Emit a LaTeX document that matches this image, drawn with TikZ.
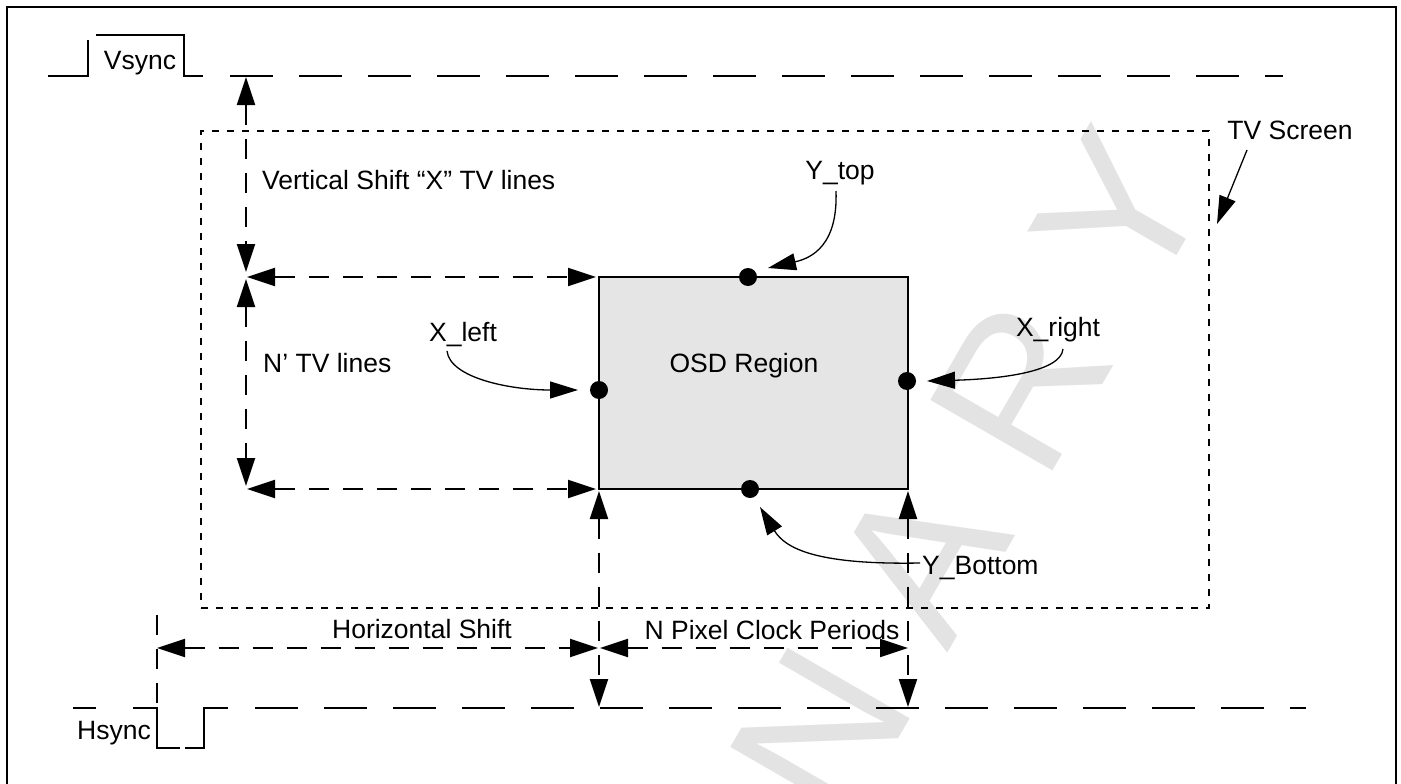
\documentclass[tikz,border=0pt]{standalone}
\usepackage{fontspec}
\setmainfont{Liberation Sans}
\usetikzlibrary{arrows.meta}
\newcommand\wmsp{\kern58pt }
\begin{document}
\begin{tikzpicture}[x=1pt,y=-1pt,
  >={Triangle[length=28pt,width=18pt]},
  lbl/.style={font=\fontsize{26.5}{30}\selectfont, inner sep=0pt, text height=19pt, text depth=0pt},
  sig/.style={line width=2.2pt},
  sigdash/.style={line width=2.2pt, dash pattern=on 43pt off 26pt},
  dim/.style={line width=2pt, dash pattern=on 20pt off 14pt},
  ptr/.style={line width=1.3pt, -{Triangle[length=28pt,width=17pt]}},
  dotmark/.style={circle, fill=black, inner sep=0pt, minimum size=18pt},
  tvbox/.style={draw, line width=2pt, dash pattern=on 7pt off 8pt, inner sep=0pt},
  osdbox/.style={draw, line width=2pt, fill=black!10, inner sep=0pt},
  wm/.style={text=black!11, inner sep=0pt, font=\fontsize{205}{205}\selectfont}
]
\useasboundingbox (0,0) rectangle (1401,784);
\fill[white] (0,0) rectangle (1401,784);

% watermark
\node[wm, rotate=60, anchor=base east] (wmk) at (1216,188)
  {P\wmsp R\wmsp E\wmsp L\wmsp I\wmsp M\wmsp I\wmsp N\wmsp A\wmsp R\wmsp Y};

% frame
\draw[line width=2.5pt] (7,800) -- (7,7) -- (1396,7) -- (1396,800);

% TV screen
\node[tvbox, minimum width=1008pt, minimum height=477pt] (tv) at (705,369.5) {};

% OSD region
\node[osdbox, minimum width=309pt, minimum height=212pt] (osd) at (753.5,383) {};
\node[lbl] (osdt) at (744,363) {OSD Region};

% Vsync waveform
\draw[sig] (48,76) -- (88,76) -- (88,40);
\draw[sig] (96,35) -- (184,35) -- (184,76) -- (203,76);
\draw[sigdash] (230,76) -- (1283,76);
\node[lbl] (vsync) at (140,60) {Vsync};

% Hsync waveform
\draw[sig] (73,708) -- (96,708);
\draw[sig] (133,708) -- (157,708) -- (157,748) -- (180,748);
\draw[sig] (185,748) -- (204,748) -- (204,708) -- (228,708);
\draw[sigdash] (255,708) -- (1306,708);
\node[lbl] (hsync) at (114,730) {Hsync};

% dimension coordinates
\coordinate (vsTop) at (246,77);
\coordinate (vsBot) at (246,272);
\coordinate (npTop) at (246,279);
\coordinate (npBot) at (246,486);
\coordinate (hTopL) at (247,277);
\coordinate (hTopR) at (596,277);
\coordinate (hBotL) at (247,489);
\coordinate (hBotR) at (596,489);
\coordinate (lvTop) at (599,491);
\coordinate (lvBot) at (599,707);
\coordinate (rvTop) at (908,491);
\coordinate (rvBot) at (908,707);
\coordinate (hsL) at (157,648);
\coordinate (hsR) at (598,648);
\coordinate (npL) at (600,648);
\coordinate (npR) at (908,648);
\coordinate (extTop) at (157,615);
\coordinate (extBot) at (157,708);

\draw[dim,<->] (vsTop) -- (vsBot);
\draw[dim,<->] (npTop) -- (npBot);
\draw[dim,<->] (hTopL) -- (hTopR);
\draw[dim,<->] (hBotL) -- (hBotR);
\draw[dim,<->] (lvTop) -- (lvBot);
\draw[dim,<->] (rvTop) -- (rvBot);
\draw[dim,<->] (hsL) -- (hsR);
\draw[dim,<->] (npL) -- (npR);
\draw[dim] (extTop) -- (extBot);

% labels
\node[lbl, anchor=west] (vshift) at (262,180) {Vertical Shift “X” TV lines};
\node[lbl, anchor=west] (nlines) at (263,363) {N’ TV lines};
\node[lbl] (xleft) at (463,332) {X\_left};
\node[lbl] (ytop) at (840,170) {Y\_top};
\node[lbl] (xright) at (1058,327) {X\_right};
\node[lbl, anchor=west] (ybot) at (922,565) {Y\_Bottom};
\node[lbl] (tvs) at (1290,130) {TV Screen};
\node[lbl] (hshift) at (422,629) {Horizontal Shift};
\node[lbl] (npix) at (772,630) {N Pixel Clock Periods};

% dots
\node[dotmark] (dtop) at (748,277) {};
\node[dotmark] (dleft) at (599,390) {};
\node[dotmark] (dright) at (907,381) {};
\node[dotmark] (dbot) at (750,489) {};

% pointer arrows
\coordinate (ytopS) at (836,191);
\coordinate (ytopE) at (768,268);
\coordinate (xlS) at (447,351);
\coordinate (xlE) at (578,390);
\coordinate (xrS) at (1063,349);
\coordinate (xrE) at (927,381);
\coordinate (ybS) at (920,563);
\coordinate (ybE) at (760,507);
\coordinate (tvS) at (1247,150);
\coordinate (tvE) at (1217,224);

\draw[ptr] (ytopS) .. controls (838,245) and (812,258) .. (ytopE);
\draw[ptr] (xlS) .. controls (450,378) and (510,390) .. (xlE);
\draw[ptr] (xrS) .. controls (1061,372) and (1000,379) .. (xrE);
\draw[ptr] (ybS) .. controls (815,565) and (785,548) .. (ybE);
\draw[ptr] (tvS) -- (tvE);
\end{tikzpicture}
\end{document}
